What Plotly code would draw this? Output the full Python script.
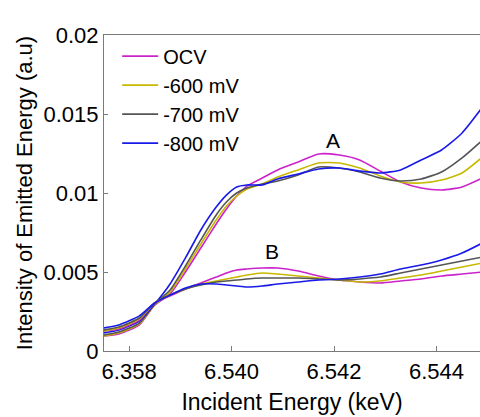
import plotly.graph_objects as go

# Incident energy grid (keV)
energy = [6.5375, 6.5378, 6.5382, 6.5385, 6.5388, 6.5391, 6.5394, 6.5397, 6.5399,
          6.5401, 6.5403, 6.5406, 6.5409, 6.5413, 6.5417, 6.5421, 6.5425, 6.5429,
          6.5433, 6.5437, 6.5441, 6.5445, 6.5449]

# Upper spectra (peak A)
ocv_a = [0.00095, 0.00108, 0.00165, 0.00291, 0.00361, 0.00500, 0.00652, 0.00804, 0.00899,
         0.00981, 0.01044, 0.01095, 0.01146, 0.01196, 0.01247, 0.01240, 0.01209, 0.01139,
         0.01070, 0.01032, 0.01019, 0.01038, 0.01095]
m600_a = [0.00095, 0.00114, 0.00171, 0.00291, 0.00373, 0.00519, 0.00677, 0.00829, 0.00918,
          0.00981, 0.01025, 0.01057, 0.01101, 0.01146, 0.01190, 0.01190, 0.01158, 0.01108,
          0.01070, 0.01063, 0.01082, 0.01127, 0.01228]
m700_a = [0.00101, 0.00120, 0.00177, 0.00297, 0.00386, 0.00538, 0.00703, 0.00861, 0.00943,
          0.01000, 0.01032, 0.01057, 0.01076, 0.01114, 0.01165, 0.01158, 0.01133, 0.01095,
          0.01076, 0.01089, 0.01133, 0.01222, 0.01335]
m800_a = [0.00114, 0.00133, 0.00190, 0.00297, 0.00424, 0.00589, 0.00766, 0.00911, 0.00987,
          0.01038, 0.01051, 0.01051, 0.01089, 0.01120, 0.01152, 0.01158, 0.01139, 0.01127,
          0.01146, 0.01209, 0.01272, 0.01380, 0.01544]

# Lower spectra (peak B)
ocv_b = [0.00127, 0.00139, 0.00196, 0.00304, 0.00348, 0.00392, 0.00430, 0.00468, 0.00494,
         0.00513, 0.00519, 0.00525, 0.00525, 0.00506, 0.00475, 0.00449, 0.00437, 0.00430,
         0.00443, 0.00456, 0.00475, 0.00487, 0.00500]
m600_b = [0.00127, 0.00146, 0.00203, 0.00304, 0.00354, 0.00392, 0.00424, 0.00443, 0.00456,
          0.00468, 0.00481, 0.00494, 0.00487, 0.00475, 0.00462, 0.00449, 0.00437, 0.00443,
          0.00462, 0.00481, 0.00506, 0.00532, 0.00557]
m700_b = [0.00133, 0.00152, 0.00209, 0.00304, 0.00354, 0.00392, 0.00418, 0.00437, 0.00443,
          0.00449, 0.00456, 0.00462, 0.00462, 0.00462, 0.00456, 0.00449, 0.00456, 0.00468,
          0.00494, 0.00519, 0.00544, 0.00570, 0.00595]
m800_b = [0.00146, 0.00165, 0.00222, 0.00304, 0.00354, 0.00399, 0.00424, 0.00424, 0.00418,
          0.00411, 0.00405, 0.00411, 0.00424, 0.00437, 0.00449, 0.00456, 0.00468, 0.00487,
          0.00519, 0.00544, 0.00576, 0.00620, 0.00684]

series_names = ["OCV", "-600 mV", "-700 mV", "-800 mV"]
series_a = [ocv_a, m600_a, m700_a, m800_a]
series_b = [ocv_b, m600_b, m700_b, m800_b]
colors = ["#CC22CC", "#C8B800", "#555555", "#1A1AE8"]

x_tickvals = [6.538, 6.540, 6.542, 6.544]
x_ticktext = ["6.358", "6.540", "6.542", "6.544"]
y_tickvals = [0, 0.005, 0.01, 0.015, 0.02]
y_ticktext = ["0", "0.005", "0.01", "0.015", "0.02"]

FONT = "Arial, Liberation Sans, sans-serif"

fig = go.Figure()
for name, ya, c in zip(series_names, series_a, colors):
    fig.add_trace(go.Scatter(x=energy, y=ya, mode="lines", name=name,
                             line=dict(color=c, width=1.6, shape="spline", smoothing=0.6),
                             legendgroup=name))
for name, yb, c in zip(series_names, series_b, colors):
    fig.add_trace(go.Scatter(x=energy, y=yb, mode="lines", name=name, showlegend=False,
                             line=dict(color=c, width=1.6, shape="spline", smoothing=0.6),
                             legendgroup=name))

fig.add_annotation(x=6.54198, y=0.01335, text="A", showarrow=False,
                   font=dict(size=21, color="black", family=FONT))
fig.add_annotation(x=6.54079, y=0.00627, text="B", showarrow=False,
                   font=dict(size=21, color="black", family=FONT))

fig.update_layout(
    width=480, height=417,
    margin=dict(l=104, r=0, t=35, b=66),
    paper_bgcolor="white", plot_bgcolor="white",
    font=dict(family=FONT, color="black"),
    legend=dict(x=0.035, y=0.995, xanchor="left", yanchor="top",
                bgcolor="rgba(0,0,0,0)", borderwidth=0, itemwidth=36,
                font=dict(size=20, family=FONT), tracegroupgap=0),
    xaxis=dict(range=[6.53751, 6.54485], tickvals=x_tickvals, ticktext=x_ticktext,
               showgrid=False, zeroline=False, showline=True, linecolor="#7a7a7a",
               linewidth=1.2, mirror=True, ticks="inside", ticklen=5, tickcolor="#7a7a7a",
               tickfont=dict(size=22, family=FONT),
               title=dict(text="Incident Energy (keV)", font=dict(size=23, family=FONT),
                          standoff=11)),
    yaxis=dict(range=[0, 0.02], tickvals=y_tickvals, ticktext=y_ticktext,
               showgrid=False, zeroline=False, showline=True, linecolor="#7a7a7a",
               linewidth=1.2, ticks="inside", ticklen=4, tickcolor="#7a7a7a",
               tickfont=dict(size=22, family=FONT),
               title=dict(text="Intensity of Emitted Energy (a.u)",
                          font=dict(size=22, family=FONT), standoff=4)),
)

fig.write_html("out.html")
